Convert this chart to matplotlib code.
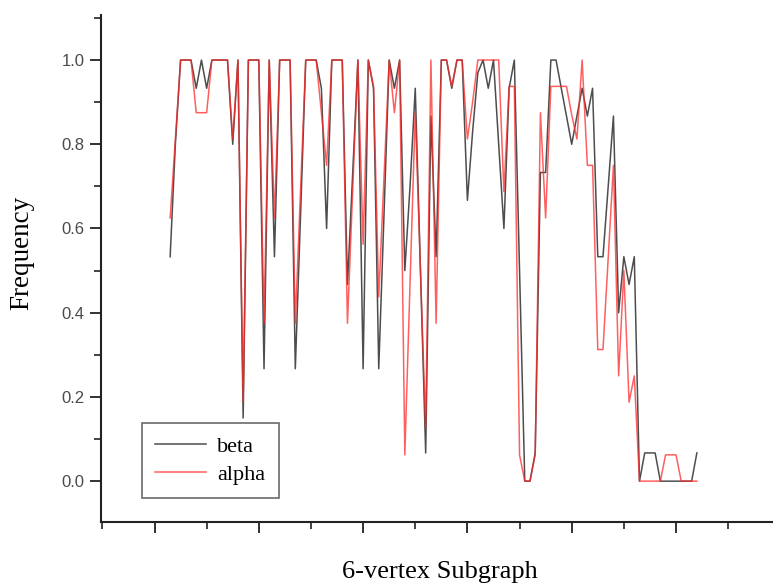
import matplotlib
matplotlib.use("Agg")
import matplotlib.pyplot as plt
from matplotlib.ticker import MultipleLocator, NullFormatter

# subgraph index
subgraph = list(range(3, 105))

beta = [0.533, 0.80, 1.0, 1.0, 1.0, 0.933, 1.0, 0.933, 1.0, 1.0,      # 3-12
        1.0, 1.0, 0.80, 1.0, 0.15, 1.0, 1.0, 1.0, 0.267, 1.0,          # 13-22
        0.533, 1.0, 1.0, 1.0, 0.267, 0.63, 1.0, 1.0, 1.0, 0.933,       # 23-32
        0.60, 1.0, 1.0, 1.0, 0.467, 0.73, 1.0, 0.267, 1.0, 0.933,      # 33-42
        0.267, 0.63, 1.0, 0.933, 1.0, 0.50, 0.70, 0.933, 0.50, 0.067,  # 43-52
        0.867, 0.533, 1.0, 1.0, 0.933, 1.0, 1.0, 0.667, 0.83, 0.97,    # 53-62
        1.0, 0.933, 1.0, 0.80, 0.60, 0.933, 1.0, 0.50, 0.0, 0.0,       # 63-72
        0.067, 0.733, 0.733, 1.0, 1.0, 0.933, 0.867, 0.80, 0.867, 0.933,  # 73-82
        0.867, 0.933, 0.533, 0.533, 0.70, 0.867, 0.40, 0.533, 0.467, 0.533,  # 83-92
        0.0, 0.067, 0.067, 0.067, 0.0, 0.0, 0.0, 0.0, 0.0, 0.0,        # 93-102
        0.0, 0.067]                                                    # 103-104

alpha = [0.625, 0.8125, 1.0, 1.0, 1.0, 0.875, 0.875, 0.875, 1.0, 1.0,   # 3-12
         1.0, 1.0, 0.8125, 1.0, 0.1875, 1.0, 1.0, 1.0, 0.375, 1.0,     # 13-22
         0.625, 1.0, 1.0, 1.0, 0.375, 0.69, 1.0, 1.0, 1.0, 0.875,      # 23-32
         0.75, 1.0, 1.0, 1.0, 0.375, 0.69, 1.0, 0.5625, 1.0, 0.9375,   # 33-42
         0.4375, 0.72, 1.0, 0.875, 1.0, 0.0625, 0.47, 0.875, 0.50, 0.125,  # 43-52
         1.0, 0.375, 1.0, 1.0, 0.9375, 1.0, 1.0, 0.8125, 0.90, 1.0,    # 53-62
         1.0, 1.0, 1.0, 1.0, 0.6875, 0.9375, 0.9375, 0.0625, 0.0, 0.0,  # 63-72
         0.0625, 0.875, 0.625, 0.9375, 0.9375, 0.9375, 0.9375, 0.87, 0.8125, 1.0,  # 73-82
         0.75, 0.75, 0.3125, 0.3125, 0.53, 0.75, 0.25, 0.50, 0.1875, 0.25,  # 83-92
         0.0, 0.0, 0.0, 0.0, 0.0, 0.0625, 0.0625, 0.0625, 0.0, 0.0,    # 93-102
         0.0, 0.0]                                                     # 103-104

W, H = 773, 586
fig = plt.figure(figsize=(W / 100, H / 100), dpi=100)
ax = fig.add_axes([101 / W, 1 - 522 / H, 1 - 101 / W, (522 - 15) / H])

ax.plot(subgraph, beta, color="#3a3a3a", lw=1.1, alpha=0.9, label="beta")
ax.plot(subgraph, alpha, color="#ff2a2a", lw=1.1, alpha=0.75, label="alpha")

ax.set_xlim(-10.26, 118.6)
ax.set_ylim(-0.097, 1.107)

ax.spines["top"].set_visible(False)
ax.spines["right"].set_visible(False)
for s in ("left", "bottom"):
    ax.spines[s].set_linewidth(1.5)
    ax.spines[s].set_color("#222222")

ax.xaxis.set_major_locator(MultipleLocator(20))
ax.xaxis.set_minor_locator(MultipleLocator(10))
ax.xaxis.set_major_formatter(NullFormatter())
ax.yaxis.set_minor_locator(MultipleLocator(0.1))
ax.set_yticks([0.0, 0.2, 0.4, 0.6, 0.8, 1.0])
ax.set_yticklabels(["0.0", "0.2", "0.4", "0.6", "0.8", "1.0"])
ax.tick_params(axis="both", which="major", direction="out", length=8, width=1.3,
               color="#222222")
ax.tick_params(axis="both", which="minor", direction="out", length=5, width=1.2,
               color="#222222")
ax.tick_params(axis="y", labelsize=12, labelcolor="#4a4a4a", pad=4)
for lab in ax.get_yticklabels():
    lab.set_family("Liberation Sans")

ax.set_ylabel("Frequency", family="Liberation Serif", fontsize=19.5)
ax.yaxis.label.set_va("center")
ax.yaxis.set_label_coords((22 - 101) / 672, (522 - 253) / 507)
ax.set_xlabel("6-vertex Subgraph", family="Liberation Serif", fontsize=19)
ax.xaxis.label.set_va("center")
ax.xaxis.set_label_coords((440 - 101) / 672, (522 - 572) / 507)

leg = ax.legend(loc="lower left", bbox_to_anchor=(0.0604, 0.047), frameon=True,
                borderaxespad=0, fancybox=False,
                prop={"family": "Liberation Serif", "size": 16},
                handlelength=2.3, labelspacing=0.35, borderpad=0.6,
                handletextpad=0.5)
leg.get_frame().set_edgecolor("#444444")
leg.get_frame().set_linewidth(1.2)

fig.savefig("out.png", dpi=100)
